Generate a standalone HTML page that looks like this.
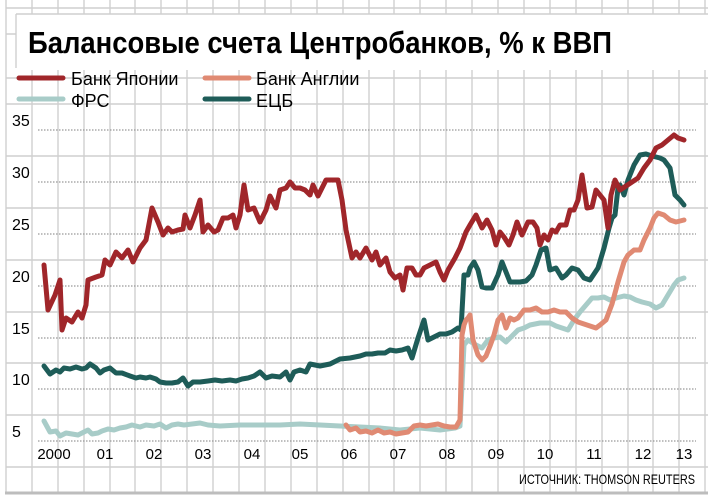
<!DOCTYPE html>
<html><head><meta charset="utf-8"><style>
html,body{margin:0;padding:0;background:#fff;}
svg{display:block;}
text{font-family:"Liberation Sans Narrow","Liberation Sans",sans-serif;}
</style></head><body>
<svg width="708" height="499" viewBox="0 0 708 499" xmlns="http://www.w3.org/2000/svg">
<rect width="708" height="499" fill="#fff"/>
<g stroke="#cfcfcf" stroke-width="1.4" id="grid">
<line x1="6" y1="0" x2="6" y2="492"/><line x1="32" y1="0" x2="32" y2="492"/><line x1="58" y1="0" x2="58" y2="492"/><line x1="84" y1="0" x2="84" y2="492"/><line x1="110" y1="0" x2="110" y2="492"/><line x1="135" y1="0" x2="135" y2="492"/><line x1="161" y1="0" x2="161" y2="492"/><line x1="187" y1="0" x2="187" y2="492"/><line x1="213" y1="0" x2="213" y2="492"/><line x1="239" y1="0" x2="239" y2="492"/><line x1="265" y1="0" x2="265" y2="492"/><line x1="291" y1="0" x2="291" y2="492"/><line x1="317" y1="0" x2="317" y2="492"/><line x1="343" y1="0" x2="343" y2="492"/><line x1="369" y1="0" x2="369" y2="492"/><line x1="394" y1="0" x2="394" y2="492"/><line x1="420" y1="0" x2="420" y2="492"/><line x1="446" y1="0" x2="446" y2="492"/><line x1="472" y1="0" x2="472" y2="492"/><line x1="498" y1="0" x2="498" y2="492"/><line x1="524" y1="0" x2="524" y2="492"/><line x1="550" y1="0" x2="550" y2="492"/><line x1="576" y1="0" x2="576" y2="492"/><line x1="602" y1="0" x2="602" y2="492"/><line x1="628" y1="0" x2="628" y2="492"/><line x1="653" y1="0" x2="653" y2="492"/><line x1="679" y1="0" x2="679" y2="492"/><line x1="705" y1="0" x2="705" y2="492"/>
<line x1="6" y1="8" x2="708" y2="8"/><line x1="6" y1="34" x2="708" y2="34"/><line x1="6" y1="78" x2="708" y2="78"/><line x1="6" y1="104" x2="708" y2="104"/><line x1="6" y1="156" x2="708" y2="156"/><line x1="6" y1="208" x2="708" y2="208"/><line x1="6" y1="260" x2="708" y2="260"/><line x1="6" y1="312" x2="708" y2="312"/><line x1="6" y1="363" x2="708" y2="363"/><line x1="6" y1="415" x2="708" y2="415"/><line x1="6" y1="467" x2="708" y2="467"/>
</g>
<line x1="5" y1="493" x2="708" y2="493" stroke="#bdbdbd" stroke-width="3"/>
<rect x="16" y="14" width="692" height="56" fill="#fff"/>
<line x1="16" y1="14" x2="708" y2="14" stroke="#cfcfcf" stroke-width="1.4"/>
<line x1="16" y1="14" x2="16" y2="68" stroke="#cfcfcf" stroke-width="1.4"/>
<text x="28" y="53" font-size="31" font-weight="bold" textLength="584" lengthAdjust="spacingAndGlyphs" fill="#000">Балансовые счета Центробанков, % к ВВП</text>
<g stroke-linecap="round" stroke-width="5">
<line x1="19" y1="78" x2="63" y2="78" stroke="#a0262a"/>
<line x1="205" y1="78" x2="249" y2="78" stroke="#e08a73"/>
<line x1="19" y1="99" x2="63" y2="99" stroke="#a8ccc8"/>
<line x1="205" y1="99" x2="249" y2="99" stroke="#1e5c58"/>
</g>
<g font-size="18" fill="#000">
<text x="71" y="85">Банк Японии</text>
<text x="256" y="85">Банк Англии</text>
<text x="71" y="107">ФРС</text>
<text x="256" y="107">ЕЦБ</text>
</g>
<g stroke="#999" stroke-width="1.3" stroke-dasharray="1.5,1.5">
<line x1="38" y1="130" x2="696" y2="130"/><line x1="38" y1="182" x2="696" y2="182"/><line x1="38" y1="234" x2="696" y2="234"/><line x1="38" y1="286" x2="696" y2="286"/><line x1="38" y1="338" x2="696" y2="338"/><line x1="38" y1="389" x2="696" y2="389"/><line x1="38" y1="441" x2="696" y2="441"/>
</g>
<g font-size="16" fill="#000">
<text x="12" y="126">35</text><text x="12" y="178">30</text><text x="12" y="230">25</text><text x="12" y="282">20</text><text x="12" y="334">15</text><text x="12" y="385">10</text><text x="12" y="437">5</text>
</g>
<g font-size="15" fill="#000" text-anchor="middle">
<text x="54" y="459">2000</text><text x="105" y="459">01</text><text x="154" y="459">02</text><text x="203" y="459">03</text><text x="252" y="459">04</text><text x="300" y="459">05</text><text x="349" y="459">06</text><text x="398" y="459">07</text><text x="447" y="459">08</text><text x="496" y="459">09</text><text x="545" y="459">10</text><text x="594" y="459">11</text><text x="643" y="459">12</text><text x="684" y="459">13</text>
</g>
<text x="695" y="484" font-size="14" text-anchor="end" textLength="176" lengthAdjust="spacingAndGlyphs">ИСТОЧНИК: THOMSON REUTERS</text>
<g fill="none" stroke-width="5" stroke-linejoin="round" stroke-linecap="round">
<polyline stroke="#a8ccc8" points="44,421 50,432 56,431 60,436 66,433 72,434 78,435 84,432 88,430 92,434 98,433 102,431 108,429 114,430 120,428 126,427 132,425 140,427 146,425 154,426 160,424 166,428 172,425 178,424 184,425 192,424 200,423 208,425 220,426 240,425 260,425 280,425 300,424 320,425 340,426 360,427 380,428 400,430 420,428 440,430 455,428 460,426 464,345 468,340 476,345 482,348 488,340 494,338 500,337 506,342 512,336 518,330 524,328 530,325 540,323 550,323 556,326 562,328 568,330 574,320 580,312 586,305 592,298 598,298 604,297 610,300 616,298 624,296 630,297 636,300 642,302 650,304 656,308 662,305 668,295 674,285 678,280 684,278"/>
<polyline stroke="#1e5c58" points="44,366 50,374 56,370 60,372 64,368 70,369 76,367 82,369 86,368 90,364 96,368 100,373 104,370 110,368 116,373 122,373 130,376 136,378 140,377 146,378 150,377 156,379 160,382 166,383 172,383 178,382 183,378 188,386 193,382 200,382 208,381 215,380 222,381 230,380 236,381 242,379 248,378 254,376 260,372 266,378 272,376 280,377 286,372 290,380 294,372 300,370 306,372 310,364 320,366 330,364 340,359 350,358 360,356 366,354 372,354 378,353 385,353 390,350 396,351 402,350 408,348 412,358 418,338 424,320 428,340 434,337 440,334 446,334 452,332 458,328 461,330 464,275 468,275 470,268 474,262 478,270 482,287 486,288 492,288 498,275 502,262 506,272 510,282 514,282 520,282 526,281 532,275 536,265 541,250 546,248 550,270 556,268 562,278 566,275 572,268 578,270 584,278 590,280 598,268 604,248 609,228 612,218 615,215 618,188 620,185 624,195 628,180 634,165 640,155 646,154 652,156 660,158 664,160 670,168 675,195 680,200 684,205"/>
<polyline stroke="#e08a73" points="346,425 350,430 356,428 360,432 366,431 372,433 378,430 384,433 390,432 396,434 402,433 408,432 414,426 420,425 426,426 432,425 438,424 444,426 450,427 456,427 460,420 462,335 464,325 466,320 468,318 470,315 473,340 478,355 482,360 486,356 490,346 494,335 498,320 502,315 506,328 510,318 514,320 518,318 524,310 530,310 536,308 542,312 548,312 554,310 560,312 566,312 572,318 578,322 584,324 590,326 596,328 600,325 606,320 612,304 618,282 624,262 628,255 634,250 640,250 644,240 650,228 654,218 658,213 664,215 670,220 676,222 684,220"/>
<polyline stroke="#a0262a" points="44,265 48,310 55,295 60,280 62,330 66,318 72,322 78,312 82,318 86,305 88,280 96,277 102,275 105,260 110,265 116,252 122,258 128,250 133,262 140,248 146,240 152,208 158,222 163,235 168,228 172,232 178,230 183,229 185,215 190,228 195,215 200,200 203,232 208,225 214,232 218,230 223,218 228,218 233,215 236,228 240,215 244,185 248,210 254,208 260,222 266,210 270,196 276,208 280,190 286,188 290,182 295,188 300,188 305,190 310,195 313,185 318,196 322,188 326,180 332,180 338,180 342,200 346,230 352,258 356,252 360,258 366,248 372,260 376,252 380,265 386,258 390,272 395,278 400,275 403,290 407,268 412,268 416,275 420,275 424,268 430,265 436,262 440,272 444,280 448,270 455,258 460,248 466,232 470,225 476,215 482,228 487,220 492,230 496,245 500,232 504,237 509,245 513,235 517,222 522,235 528,222 533,222 537,228 540,245 544,235 548,240 552,230 556,232 560,225 566,225 570,210 574,210 578,200 582,175 587,208 592,207 596,190 600,195 604,200 608,228 611,195 615,180 620,190 626,186 632,182 638,178 644,168 650,160 656,148 662,145 668,140 674,135 678,138 684,140"/>
</g>
</svg>
</body></html>
